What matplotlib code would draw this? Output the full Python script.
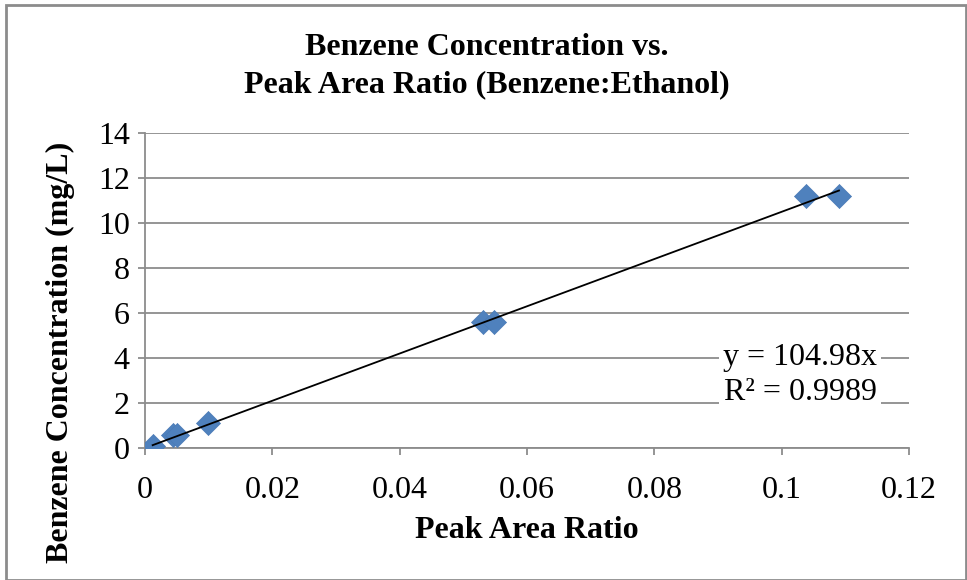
import matplotlib
matplotlib.use("Agg")
import matplotlib.pyplot as plt
import numpy as np
from matplotlib.patches import Rectangle

ratio = [0.0012, 0.0044, 0.0050, 0.0099, 0.0531, 0.0548, 0.1038, 0.1090]
conc = [0.11, 0.56, 0.56, 1.12, 5.6, 5.6, 11.2, 11.2]
slope = 104.98
r2 = 0.9989
xticks = [0, 0.02, 0.04, 0.06, 0.08, 0.1, 0.12]
xticklabels = ["0", "0.02", "0.04", "0.06", "0.08", "0.1", "0.12"]
yticks = [0, 2, 4, 6, 8, 10, 12, 14]

plt.rcParams['font.family'] = ['Liberation Serif', 'DejaVu Serif']
W, H = 967, 580
fig = plt.figure(figsize=(W/100, H/100), dpi=100)
ax = fig.add_axes([145/W, 1-448/H, (909-145)/W, (448-133)/H])

ax.set_xlim(0, 0.12)
ax.set_ylim(0, 14)
ax.set_yticks(yticks)
ax.set_xticks(xticks)
ax.set_xticklabels(xticklabels)
ax.yaxis.grid(True, color='#8c8c8c', linewidth=1.3)
ax.set_axisbelow(True)
for s in ['top', 'right']:
    ax.spines[s].set_visible(False)
for s in ['left', 'bottom']:
    ax.spines[s].set_color('#8c8c8c')
    ax.spines[s].set_linewidth(1.3)
ax.tick_params(axis='both', colors='#8c8c8c', length=5, width=1.3, labelsize=23, labelcolor='black')
ax.tick_params(axis='x', pad=15)
ax.tick_params(axis='y', pad=6)

ax.scatter(ratio, conc, marker='D', s=150, color='#4f81bd', edgecolors='#4a7ab5', linewidths=0.5, zorder=3)
xl = np.array([min(ratio), max(ratio)])
ax.plot(xl, slope*xl, color='black', linewidth=1.3, zorder=4)

ax.text(0.1029, 4.0, f"y = {slope}x", fontsize=23, ha='center', va='center',
        bbox=dict(facecolor='white', edgecolor='none', pad=3), zorder=5)
ax.text(0.1029, 2.45, f"R² = {r2}", fontsize=23, ha='center', va='center',
        bbox=dict(facecolor='white', edgecolor='none', pad=3), zorder=5)

ax.set_xlabel("Peak Area Ratio", fontsize=23, fontweight='bold', labelpad=8)
fig.text(60/W, 1-352/H, "Benzene Concentration (mg/L)", rotation=90, fontsize=23,
         fontweight='bold', ha='center', va='center')
fig.text(487/W, 1-66/H, "Benzene Concentration vs.\nPeak Area Ratio (Benzene:Ethanol)",
         ha='center', va='center', fontsize=23, fontweight='bold', linespacing=1.4)

fig.patches.append(Rectangle((6/W, 0), (966-6)/W, 1-5/H, transform=fig.transFigure,
                             fill=False, edgecolor='#8c8c8c', linewidth=2))

fig.savefig("out.png", dpi=100)
